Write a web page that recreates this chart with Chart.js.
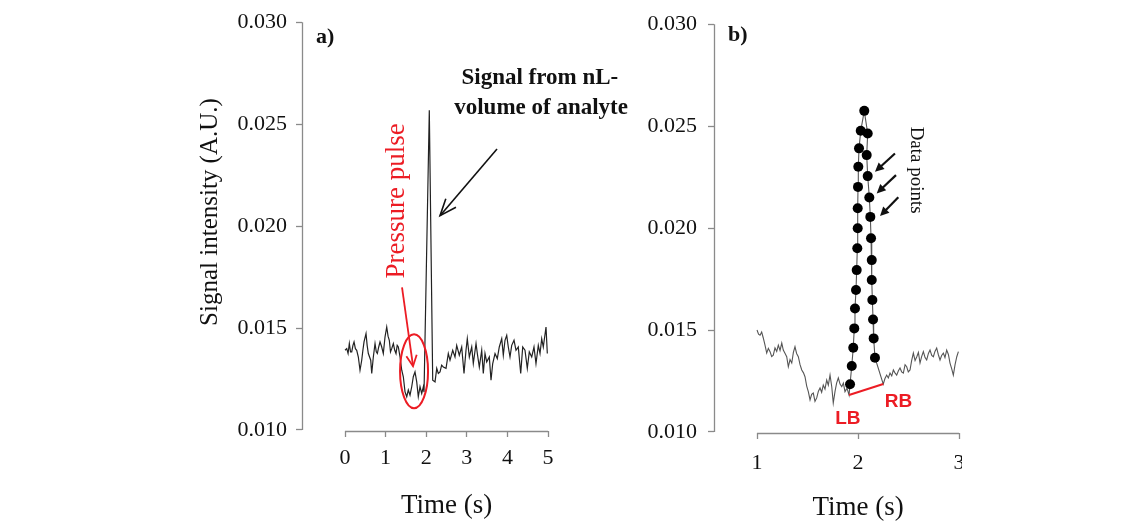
<!DOCTYPE html>
<html>
<head>
<meta charset="utf-8">
<script src="https://cdn.jsdelivr.net/npm/chart.js@4.4.1/dist/chart.umd.min.js"></script>
<style>
body { margin: 0; background: #fff; }
#wrapA { position: absolute; left: 0; top: 0; width: 640px; height: 522px; }
#wrapB { position: absolute; left: 620px; top: 0; width: 342px; height: 522px; overflow: hidden; }
</style>
</head>
<body>
<div id="wrapA"><canvas id="chartA" width="640" height="522"></canvas></div>
<div id="wrapB"><canvas id="chartB" width="400" height="522"></canvas></div>
<script>
// tick positions
const yTicks = [0.010, 0.015, 0.020, 0.025, 0.030];
const aTicksX = [0, 1, 2, 3, 4, 5];
const bTicksX = [1, 2, 3];

// panel a) full run, time (s) and signal (A.U.)
const aTime = [0.000, 0.042, 0.075, 0.106, 0.135, 0.165, 0.195, 0.222, 0.255, 0.288, 0.328, 0.369, 0.411, 0.440,
  0.468, 0.517, 0.545, 0.574, 0.633, 0.658, 0.697, 0.739, 0.770, 0.796, 0.830, 0.862, 0.904, 0.943, 0.985,
  1.027, 1.060, 1.091, 1.120, 1.150, 1.190, 1.225, 1.256, 1.285, 1.313, 1.355, 1.397, 1.436, 1.478, 1.520,
  1.559, 1.601, 1.643, 1.682, 1.724, 1.766, 1.805, 1.847, 1.889, 1.929, 1.946, 2.076, 2.160, 2.217, 2.259,
  2.298, 2.340, 2.380, 2.421, 2.488, 2.544, 2.586, 2.653, 2.709, 2.751, 2.815, 2.874, 2.931, 2.980, 3.012,
  3.062, 3.121, 3.160, 3.227, 3.259, 3.308, 3.367, 3.406, 3.448, 3.490, 3.554, 3.596, 3.638, 3.695, 3.751,
  3.800, 3.860, 3.899, 3.941, 3.983, 4.022, 4.064, 4.106, 4.163, 4.212, 4.268, 4.328, 4.377, 4.433, 4.490,
  4.539, 4.599, 4.655, 4.704, 4.761, 4.803, 4.845, 4.884, 4.951, 4.983];
const aSignal = [0.01391, 0.01399, 0.01375, 0.01424, 0.01383, 0.01383, 0.01415, 0.01432, 0.01399, 0.01391, 0.01358, 0.01293, 0.01342, 0.01391,
  0.01432, 0.01473, 0.01415, 0.01375, 0.01342, 0.01277, 0.01358, 0.01424, 0.01383, 0.01375, 0.01407, 0.01432, 0.01407, 0.01375, 0.01456,
  0.01505, 0.01460, 0.01440, 0.01383, 0.01399, 0.01424, 0.01391, 0.01375, 0.01415, 0.01407, 0.01358, 0.01293, 0.01261, 0.01187, 0.01163,
  0.01196, 0.01171, 0.01212, 0.01261, 0.01285, 0.01236, 0.01163, 0.01212, 0.01179, 0.01212, 0.01186, 0.02568, 0.01244, 0.01236, 0.01302,
  0.01277, 0.01285, 0.01318, 0.01309, 0.01302, 0.01375, 0.01342, 0.01391, 0.01358, 0.01415, 0.01367, 0.01407, 0.01277, 0.01391, 0.01448,
  0.01358, 0.01407, 0.01326, 0.01424, 0.01375, 0.01309, 0.01391, 0.01277, 0.01375, 0.01334, 0.01358, 0.01244, 0.01326, 0.01375, 0.01350,
  0.01407, 0.01448, 0.01367, 0.01440, 0.01464, 0.01407, 0.01358, 0.01415, 0.01440, 0.01391, 0.01407, 0.01277, 0.01407, 0.01391, 0.01302,
  0.01383, 0.01358, 0.01407, 0.01326, 0.01415, 0.01375, 0.01448, 0.01407, 0.01505, 0.01375];

// panel b) zoom: baseline before the peak (ends at LB)
const bLeftTime = [1.000, 1.015, 1.030, 1.046, 1.062, 1.079, 1.096, 1.112, 1.129, 1.145, 1.161, 1.178, 1.195, 1.211,
  1.228, 1.245, 1.260, 1.278, 1.294, 1.310, 1.327, 1.344, 1.360, 1.376, 1.392, 1.409, 1.426, 1.443, 1.460, 1.475,
  1.492, 1.508, 1.525, 1.541, 1.557, 1.574, 1.591, 1.608, 1.624, 1.640, 1.656, 1.673, 1.690, 1.706, 1.723, 1.740,
  1.755, 1.772, 1.788, 1.805, 1.822, 1.839, 1.855, 1.871, 1.891, 1.911];
const bLeftSignal = [0.01500, 0.01480, 0.01475, 0.01490, 0.01461, 0.01426, 0.01387, 0.01410, 0.01394, 0.01370, 0.01377, 0.01412, 0.01395, 0.01426,
  0.01400, 0.01436, 0.01402, 0.01385, 0.01369, 0.01320, 0.01355, 0.01338, 0.01390, 0.01418, 0.01385, 0.01369, 0.01330, 0.01304, 0.01290, 0.01271,
  0.01225, 0.01198, 0.01157, 0.01185, 0.01191, 0.01150, 0.01167, 0.01200, 0.01216, 0.01195, 0.01230, 0.01210, 0.01255, 0.01230, 0.01279, 0.01222,
  0.01142, 0.01198, 0.01240, 0.01265, 0.01235, 0.01222, 0.01240, 0.01198, 0.01215, 0.01181];

// panel b) sampled data points of the peak
const bDotTime = [1.921, 1.938, 1.953, 1.963, 1.970, 1.980, 1.987, 1.993, 1.997, 1.997, 2.000, 2.003, 2.010, 2.027,
  2.062, 2.096, 2.086, 2.096, 2.112, 2.122, 2.129, 2.136, 2.136, 2.142, 2.149, 2.155, 2.168];
const bDotSignal = [0.01234, 0.01324, 0.01413, 0.01508, 0.01606, 0.01696, 0.01794, 0.01901, 0.01999, 0.02097, 0.02202, 0.02301, 0.02391, 0.02477,
  0.02575, 0.02464, 0.02358, 0.02255, 0.02150, 0.02055, 0.01950, 0.01843, 0.01745, 0.01647, 0.01552, 0.01459, 0.01364];

// panel b) baseline after the peak (starts at RB)
const bRightTime = [2.250, 2.267, 2.284, 2.300, 2.317, 2.334, 2.350, 2.366, 2.383, 2.400, 2.416, 2.432, 2.449, 2.466,
  2.482, 2.498, 2.515, 2.531, 2.548, 2.565, 2.582, 2.598, 2.614, 2.630, 2.647, 2.664, 2.680, 2.697, 2.713, 2.730,
  2.746, 2.762, 2.779, 2.795, 2.812, 2.828, 2.845, 2.861, 2.878, 2.895, 2.911, 2.928, 2.944, 2.961, 2.978, 2.994];
const bRightSignal = [0.01235, 0.01262, 0.01279, 0.01265, 0.01289, 0.01275, 0.01304, 0.01290, 0.01279, 0.01300, 0.01314, 0.01295, 0.01289, 0.01330,
  0.01320, 0.01295, 0.01304, 0.01350, 0.01387, 0.01350, 0.01369, 0.01390, 0.01338, 0.01370, 0.01394, 0.01365, 0.01353, 0.01385, 0.01402, 0.01375,
  0.01369, 0.01395, 0.01412, 0.01380, 0.01353, 0.01375, 0.01387, 0.01365, 0.01402, 0.01380, 0.01338, 0.01310, 0.01279, 0.01330, 0.01369, 0.01394];

const SERIF = "'Liberation Serif', 'Times New Roman', serif";
const SANS = "'Liberation Sans', Arial, sans-serif";
const RED = '#ec1c24';
const AXIS = '#8a8a8a';

function toPoints(xs, ys) {
  return xs.map((x, i) => ({ x: x, y: ys[i] }));
}

function px(chart, t, v) {
  return { x: chart.scales.x.getPixelForValue(t), y: chart.scales.y.getPixelForValue(v) };
}

function label(ctx, str, p, font, color, angle) {
  ctx.save();
  ctx.translate(p.x, p.y);
  if (angle) ctx.rotate(angle);
  ctx.font = font;
  ctx.fillStyle = color;
  ctx.textAlign = 'center';
  ctx.textBaseline = 'middle';
  ctx.fillText(str, 0, 0);
  ctx.restore();
}

function arrow(ctx, p1, p2, color, head, spread, filled, width) {
  const ang = Math.atan2(p2.y - p1.y, p2.x - p1.x);
  const a1 = ang + Math.PI - spread, a2 = ang + Math.PI + spread;
  ctx.save();
  ctx.strokeStyle = color;
  ctx.fillStyle = color;
  ctx.lineWidth = width;
  ctx.beginPath();
  ctx.moveTo(p1.x, p1.y);
  ctx.lineTo(p2.x - (filled ? head * 0.6 * Math.cos(ang) : 0), p2.y - (filled ? head * 0.6 * Math.sin(ang) : 0));
  ctx.stroke();
  ctx.beginPath();
  ctx.moveTo(p2.x + head * Math.cos(a1), p2.y + head * Math.sin(a1));
  ctx.lineTo(p2.x, p2.y);
  ctx.lineTo(p2.x + head * Math.cos(a2), p2.y + head * Math.sin(a2));
  if (filled) { ctx.closePath(); ctx.fill(); } else ctx.stroke();
  ctx.restore();
}

// R style axis lines: only between first and last tick
function drawAxes(chart, xTicks) {
  const ctx = chart.ctx, a = chart.chartArea, sx = chart.scales.x, sy = chart.scales.y;
  const left = Math.floor(a.left) + 0.5, bottom = Math.floor(a.bottom) + 0.5;
  ctx.save();
  ctx.strokeStyle = AXIS;
  ctx.lineWidth = 1.3;
  ctx.beginPath();
  ctx.moveTo(left, sy.getPixelForValue(yTicks[yTicks.length - 1]));
  ctx.lineTo(left, sy.getPixelForValue(yTicks[0]));
  ctx.moveTo(sx.getPixelForValue(xTicks[0]), bottom);
  ctx.lineTo(sx.getPixelForValue(xTicks[xTicks.length - 1]), bottom);
  ctx.stroke();
  ctx.restore();
}

function axisTitleX(chart, xTicks) {
  const sx = chart.scales.x;
  const mid = (sx.getPixelForValue(xTicks[0]) + sx.getPixelForValue(xTicks[xTicks.length - 1])) / 2;
  label(chart.ctx, 'Time (s)', { x: mid, y: chart.chartArea.bottom + 75 }, '27px ' + SERIF, '#111');
}

function scaleOptions(xMin, xMax, xTicks, yWidth, xHeight, xPad, yPad) {
  return {
    x: {
      type: 'linear', min: xMin, max: xMax,
      afterBuildTicks: s => { s.ticks = xTicks.map(v => ({ value: v })); },
      afterFit: s => { s.height = xHeight; },
      border: { display: false },
      grid: { drawOnChartArea: false, drawTicks: true, tickLength: 6, color: AXIS, tickColor: AXIS, tickWidth: 1.3 },
      ticks: { autoSkip: false, maxRotation: 0, padding: xPad, color: '#111', font: { family: SERIF, size: 22, lineHeight: 1.2 },
        callback: v => String(v) }
    },
    y: {
      type: 'linear', min: 0.00995, max: 0.030,
      afterBuildTicks: s => { s.ticks = yTicks.map(v => ({ value: v })); },
      afterFit: s => { s.width = yWidth; },
      border: { display: false },
      grid: { drawOnChartArea: false, drawTicks: true, tickLength: 6, color: AXIS, tickColor: AXIS, tickWidth: 1.3 },
      ticks: { autoSkip: false, padding: yPad, color: '#111', font: { family: SERIF, size: 22, lineHeight: 1.2 },
        callback: v => v.toFixed(3) }
    }
  };
}

const panelA = {
  id: 'panelA',
  afterDraw(chart) {
    const ctx = chart.ctx, a = chart.chartArea;
    drawAxes(chart, aTicksX);
    axisTitleX(chart, aTicksX);
    label(ctx, 'Signal intensity (A.U.)', { x: a.left - 92, y: 212 }, '25px ' + SERIF, '#111', -Math.PI / 2);
    label(ctx, 'a)', px(chart, -0.49, 0.02926), 'bold 22px ' + SERIF, '#111');
    label(ctx, 'Signal from nL-', px(chart, 4.80, 0.02725), 'bold 23px ' + SERIF, '#111');
    label(ctx, 'volume of analyte', px(chart, 4.83, 0.02579), 'bold 23px ' + SERIF, '#111');
    arrow(ctx, px(chart, 3.744, 0.02378), px(chart, 2.34, 0.02051), '#111', 18, 0.38, false, 1.6);
    label(ctx, 'Pressure pulse', px(chart, 1.28, 0.02124), '27px ' + SERIF, RED, -Math.PI / 2);
    arrow(ctx, px(chart, 1.404, 0.01699), px(chart, 1.675, 0.01313), RED, 12, 0.45, false, 1.8);
    const c = px(chart, 1.70, 0.01288);
    ctx.save();
    ctx.strokeStyle = RED;
    ctx.lineWidth = 2;
    ctx.beginPath();
    ctx.ellipse(c.x, c.y, 14, 37, 0, 0, Math.PI * 2);
    ctx.stroke();
    ctx.restore();
  }
};

const panelB = {
  id: 'panelB',
  afterDraw(chart) {
    const ctx = chart.ctx;
    drawAxes(chart, bTicksX);
    axisTitleX(chart, bTicksX);
    label(ctx, 'b)', px(chart, 0.81, 0.02946), 'bold 22px ' + SERIF, '#111');
    label(ctx, 'Data points', px(chart, 2.574, 0.02284), '19px ' + SERIF, '#111', Math.PI / 2);
    arrow(ctx, px(chart, 2.366, 0.02366), px(chart, 2.168, 0.02276), '#111', 10, 0.45, true, 2.2);
    arrow(ctx, px(chart, 2.376, 0.02260), px(chart, 2.185, 0.02170), '#111', 10, 0.45, true, 2.2);
    arrow(ctx, px(chart, 2.399, 0.02151), px(chart, 2.218, 0.02059), '#111', 10, 0.45, true, 2.2);
    label(ctx, 'LB', px(chart, 1.90, 0.01064), 'bold 19px ' + SANS, RED);
    label(ctx, 'RB', px(chart, 2.40, 0.01147), 'bold 19px ' + SANS, RED);
  }
};

new Chart(document.getElementById('chartA'), {
  type: 'line',
  data: {
    datasets: [{
      data: toPoints(aTime, aSignal),
      borderColor: '#222', borderWidth: 1.2, pointRadius: 0, tension: 0
    }]
  },
  options: {
    responsive: false, animation: false, devicePixelRatio: 1,
    layout: { padding: { left: 0, top: 22, right: 92, bottom: 0 } },
    plugins: { legend: { display: false }, tooltip: { enabled: false } },
    scales: scaleOptions(-1.06, 5, aTicksX, 302, 91, 8, 9)
  },
  plugins: [panelA]
});

const bTrace = toPoints(bLeftTime.concat(bDotTime, bRightTime), bLeftSignal.concat(bDotSignal, bRightSignal));
const bBounds = [
  { x: bLeftTime[bLeftTime.length - 1], y: bLeftSignal[bLeftSignal.length - 1] },
  { x: bRightTime[0], y: bRightSignal[0] }
];

new Chart(document.getElementById('chartB'), {
  type: 'line',
  data: {
    datasets: [
      { data: bTrace, borderColor: '#555', borderWidth: 1.1, pointRadius: 0, tension: 0, order: 3 },
      { data: bBounds, borderColor: RED, borderWidth: 2, pointRadius: 0, tension: 0, order: 2 },
      { data: toPoints(bDotTime, bDotSignal), showLine: false, pointRadius: 5, pointBackgroundColor: '#000',
        pointBorderWidth: 0, order: 1 }
    ]
  },
  options: {
    responsive: false, animation: false, devicePixelRatio: 1,
    layout: { padding: { left: 0, top: 24, right: 61, bottom: 0 } },
    plugins: { legend: { display: false }, tooltip: { enabled: false } },
    scales: scaleOptions(0.574, 3, bTicksX, 94, 89, 11, 11)
  },
  plugins: [panelB]
});
</script>
</body>
</html>
